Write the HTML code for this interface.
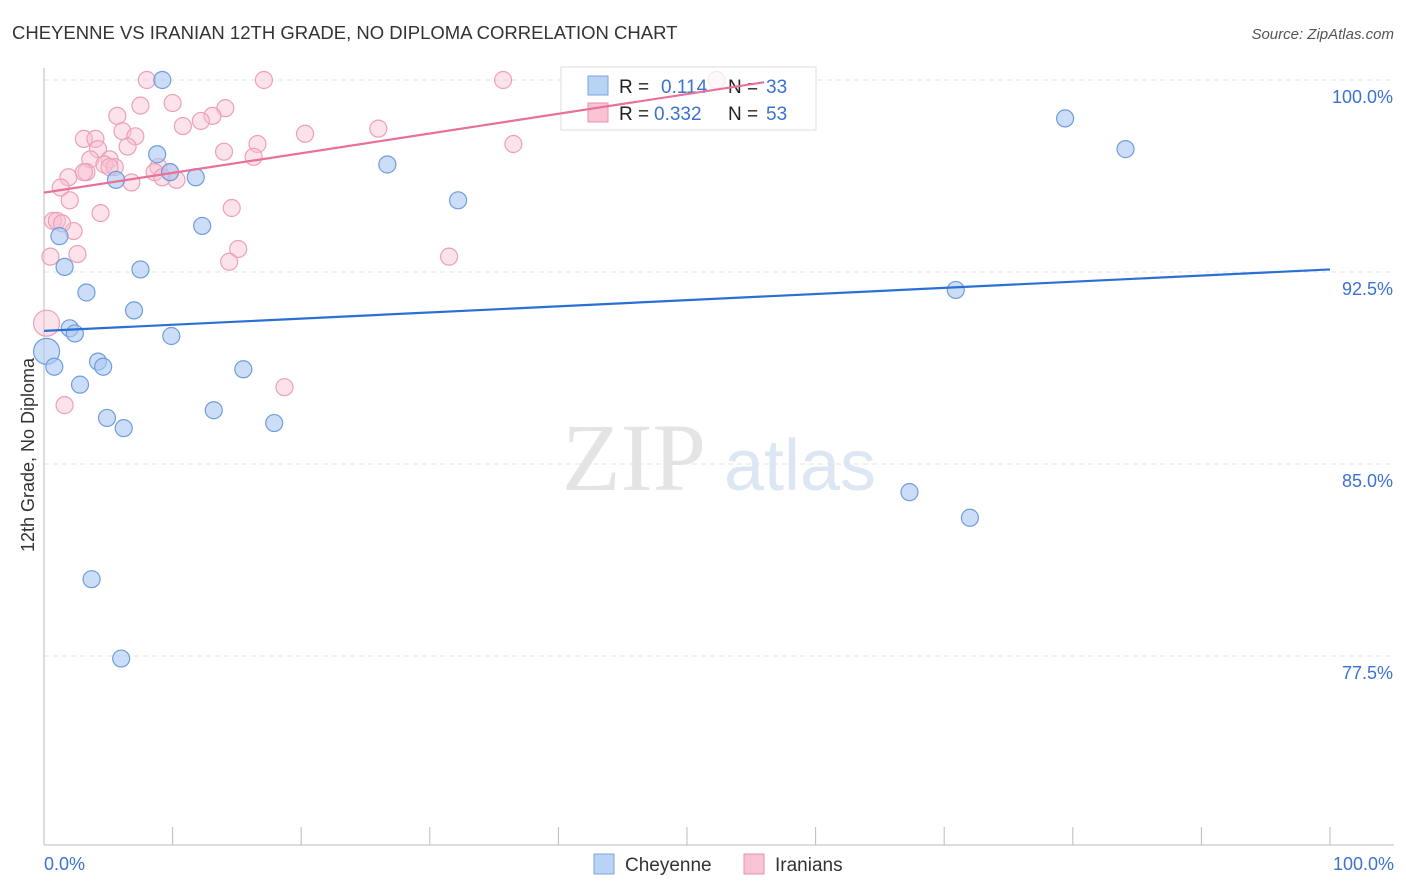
<!DOCTYPE html>
<html><head><meta charset="utf-8"><style>
body{margin:0;background:#fff;font-family:"Liberation Sans",sans-serif;}
svg{display:block}
</style></head><body>
<svg id="chart" width="1406" height="892">
<text x="12" y="39" font-size="18.5" fill="#333">CHEYENNE VS IRANIAN 12TH GRADE, NO DIPLOMA CORRELATION CHART</text>
<text x="1394" y="39" font-size="15" fill="#555" font-style="italic" text-anchor="end">Source: ZipAtlas.com</text>
<text x="634" y="490" font-size="96" fill="#e4e4e4" font-family="Liberation Serif,serif" text-anchor="middle">ZIP</text>
<text x="800" y="490" font-size="72" fill="#dde6f3" text-anchor="middle">atlas</text>
<text transform="translate(34,455) rotate(-90)" font-size="18" fill="#333" text-anchor="middle">12th Grade, No Diploma</text>
<g id="grid"></g><g id="pts"></g>
<g>
<rect x="561" y="67" width="255" height="63" fill="rgba(255,255,255,0.75)" stroke="#ddd"/>
<rect x="588" y="76" width="20" height="19" fill="#b9d3f5" stroke="#7aa6e0"/>
<rect x="588" y="103" width="20" height="19" fill="#f8c4d3" stroke="#ea8fab"/>
<text x="619" y="93" font-size="19" fill="#222">R = </text><text x="661" y="93" font-size="19" fill="#3a73cf">0.114</text>
<text x="728" y="93" font-size="19" fill="#222">N = </text><text x="766" y="93" font-size="19" fill="#3a73cf">33</text>
<text x="619" y="120" font-size="19" fill="#222">R = </text><text x="654" y="120" font-size="19" fill="#3a73cf">0.332</text>
<text x="728" y="120" font-size="19" fill="#222">N = </text><text x="766" y="120" font-size="19" fill="#3a73cf">53</text>
</g>
<g id="trend"></g>
<g>
<rect x="594" y="854" width="20" height="20" fill="#b9d3f5" stroke="#7aa6e0"/>
<text x="625" y="871" font-size="19" fill="#333">Cheyenne</text>
<rect x="744" y="854" width="20" height="20" fill="#f8c4d3" stroke="#ea8fab"/>
<text x="775" y="871" font-size="19" fill="#333">Iranians</text>
</g>
<text x="44" y="870" font-size="18" fill="#3a73cf">0.0%</text>
<text x="1394" y="870" font-size="18" fill="#3a73cf" text-anchor="end">100.0%</text>
</svg>
<script>
const yTicks=[100,92.5,85,77.5];
const yTickLabels=["100.0%","92.5%","85.0%","77.5%"];
const cheyX=[9.2,8.8,5.6,9.8,11.8,26.7,32.2,12.3,1.2,1.6,7.5,3.3,7,2,2.4,9.9,0.2,0.8,4.2,4.6,15.5,2.8,13.2,4.9,6.2,17.9,3.7,6,79.4,84.1,70.9,67.3,72];
const cheyY=[100,97.1,96.1,96.4,96.2,96.7,95.3,94.3,93.9,92.7,92.6,91.7,91,90.3,90.1,90,89.4,88.8,89,88.8,88.7,88.1,87.1,86.8,86.4,86.6,80.5,77.4,98.5,97.3,91.8,83.9,82.9];
const iranX=[8,17.1,35.7,52.3,5.7,7.5,10,14.1,13.1,12.2,10.8,20.3,26,6.1,7.1,3.1,4,36.5,14,16.6,6.5,4.2,3.6,5.1,4.7,5.5,3.3,1.9,8.9,9.8,8.6,9.2,10.3,6.8,1.3,2,16.3,0.7,1,4.4,14.6,2.3,2.6,0.5,15.1,14.4,31.5,0.2,18.7,1.6,3.1,1.4,5.1];
const iranY=[100,100,100,100,98.6,99,99.1,98.9,98.6,98.4,98.2,97.9,98.1,98,97.8,97.7,97.7,97.5,97.2,97.5,97.4,97.3,96.9,96.9,96.7,96.6,96.4,96.2,96.6,96.4,96.4,96.2,96.1,96,95.8,95.3,97,94.5,94.5,94.8,95,94.1,93.2,93.1,93.4,92.9,93.1,90.5,88,87.3,96.4,94.4,96.6];
const trendX=[0,100];
const cheyTrend=[90.2,92.6];
const iranTrend=[95.6,103.3];
const iranTrendEnd=56;
const X=v=>44+v*12.86, Y=v=>80+(100-v)*25.6;
const ns="http://www.w3.org/2000/svg";
function mk(tag,attrs,parent){const e=document.createElementNS(ns,tag);for(const k in attrs)e.setAttribute(k,attrs[k]);document.getElementById(parent).appendChild(e);return e;}
yTicks.forEach((t,i)=>{
 const l=mk('line',{x1:44,x2:1394,y1:Y(t),y2:Y(t),stroke:'#e3e3e3','stroke-dasharray':'5,4'},'grid');
 
 
 const tx=mk('text',{x:1393,y:Y(t)+23,'font-size':18,fill:'#3a73cf','text-anchor':'end'},'grid');
 tx.textContent=yTickLabels[i];
 
 
});
const ax=mk('line',{x1:44,x2:44,y1:68,y2:845,stroke:'#bbb'},'grid');


const bx=mk('line',{x1:44,x2:1394,y1:845,y2:845,stroke:'#bbb'},'grid');


for(let i=1;i<=10;i++){const t=mk('line',{x1:X(i*10),x2:X(i*10),y1:827,y2:845,stroke:'#bbb'},'grid');
 
 }
function pts(xs,ys,fill,stroke,name){xs.forEach((x,i)=>{const c=mk('circle',{cx:X(x),cy:Y(ys[i]),r:x<0.5?13:8.5,fill:fill,stroke:stroke,'stroke-width':1.2},'pts');
 
 });}
pts(iranX,iranY,'rgba(248,190,208,0.45)','#eca0b8','iranians-point');
pts(cheyX,cheyY,'rgba(170,200,242,0.6)','#6f9ddc','cheyenne-point');
const bl=mk('line',{x1:X(trendX[0]),y1:Y(cheyTrend[0]),x2:X(trendX[1]),y2:Y(cheyTrend[1]),stroke:'#2a6fd6','stroke-width':2.2},'trend');


const f=iranTrendEnd/100;
const pl=mk('line',{x1:X(trendX[0]),y1:Y(iranTrend[0]),x2:X(iranTrendEnd),y2:Y(iranTrend[0]+(iranTrend[1]-iranTrend[0])*f),stroke:'#e8709a','stroke-width':2.2},'trend');


</script>
</body></html>
